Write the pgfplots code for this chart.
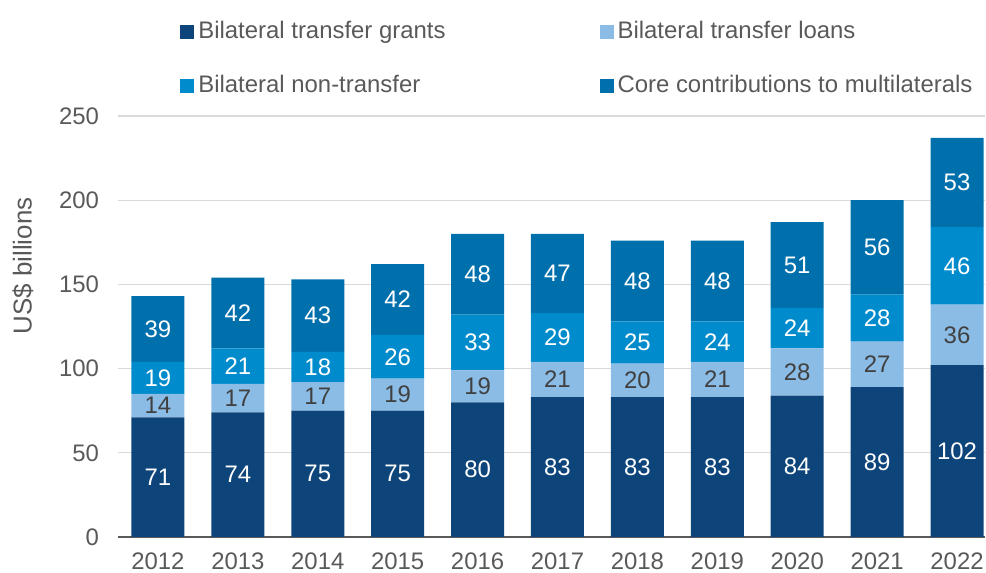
\documentclass[border=0pt]{standalone}
\usepackage{pgfplots}
\pgfplotsset{compat=1.18}
\usepackage{pgfplotstable}
\usepackage{fontspec}
\setmainfont{Liberation Sans}
\definecolor{cgrant}{HTML}{0D457A}
\definecolor{cloan}{HTML}{8BBCE5}
\definecolor{cnon}{HTML}{008CCC}
\definecolor{ccore}{HTML}{0070AD}
\definecolor{txtgray}{HTML}{595959}
\definecolor{lbldark}{HTML}{404040}
\definecolor{gridgray}{HTML}{D9D9D9}
\pgfplotstableread{
x year grants loans nontr core
0 2012 71 14 19 39
1 2013 74 17 21 42
2 2014 75 17 18 43
3 2015 75 19 26 42
4 2016 80 19 33 48
5 2017 83 21 29 47
6 2018 83 20 25 48
7 2019 83 21 24 48
8 2020 84 28 24 51
9 2021 89 27 28 56
10 2022 102 36 46 53
}\datatable
\pgfplotsset{
  sqleg/.style={legend image code/.code={\fill[##1] (0bp,-3.5bp) rectangle (7bp,3.5bp);}},
  seg/.style 2 args={draw=none, fill=#1, sqleg,
    nodes near coords, point meta=explicit,
    nodes near coords style={anchor=center,
      font=\fontsize{12}{14}\selectfont, text=#2,
      /pgf/number format/assume math mode=true}},
}
\begin{document}
\begin{tikzpicture}
\begin{axis}[
  at={(0,0)}, anchor=south west,
  scale only axis, width=433.5bp, height=210.5bp,
  ybar stacked, bar width=26.5bp,
  xmin=-0.5, xmax=10.35, ymin=0, ymax=250,
  xtick={0,...,10},
  xticklabels={2012,2013,2014,2015,2016,2017,2018,2019,2020,2021,2022},
  ytick={0,50,...,250},
  ymajorgrids, grid style={gridgray, line width=0.6bp},
  axis x line*=bottom, axis y line*=left,
  axis line style={-},
  x axis line style={color=txtgray, line width=0.9bp},
  y axis line style={draw=none},
  tick style={draw=none},
  /pgf/number format/assume math mode=true,
  tick label style={font=\fontsize{12}{14}\selectfont, text=txtgray},
  yticklabel style={xshift=-6bp},
  xticklabel style={yshift=-4.5bp},
  ylabel={US\$ billions},
  ylabel style={at={(axis description cs:-0.1096,0.644)}, anchor=center,
    font=\fontsize{13}{15}\selectfont, text=txtgray},
  legend columns=2,
  legend cell align=left,
  legend style={draw=none, fill=none, inner sep=0pt,
    at={(axis description cs:0.0715,1.135)}, anchor=west,
    font=\fontsize{12}{14}\selectfont, text=txtgray,
    nodes={inner xsep=2bp, inner ysep=0pt, text height=9bp, text depth=3bp},
    row sep=15bp,
    /tikz/every even column/.append style={column sep=75bp}},
]
\addplot[seg={cgrant}{white}]
  table[x=x, y=grants, meta=grants] {\datatable};
\addlegendentry{Bilateral transfer grants}
\addplot[seg={cloan}{lbldark}]
  table[x=x, y=loans, meta=loans] {\datatable};
\addlegendentry{Bilateral transfer loans}
\addplot[seg={cnon}{white}]
  table[x=x, y=nontr, meta=nontr] {\datatable};
\addlegendentry{Bilateral non-transfer}
\addplot[seg={ccore}{white}]
  table[x=x, y=core, meta=core] {\datatable};
\addlegendentry{Core contributions to multilaterals}
\end{axis}
\pgfresetboundingbox
\path[use as bounding box] (-59bp,-18bp) rectangle (434bp,268.5bp);
\end{tikzpicture}
\end{document}
